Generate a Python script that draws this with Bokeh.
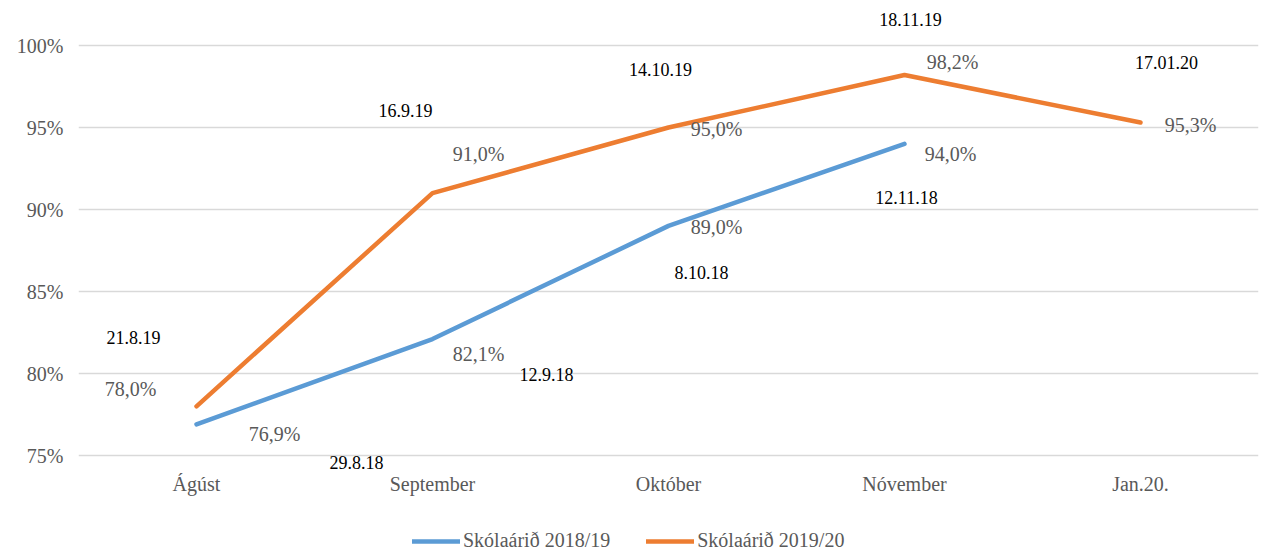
from bokeh.plotting import figure
from bokeh.models import (ColumnDataSource, LabelSet, Legend, LegendItem, FixedTicker,
                          PrintfTickFormatter, Range1d, FactorRange)
from bokeh.layouts import column
from bokeh.embed import file_html
from bokeh.resources import INLINE

categories = ["Ágúst", "September", "Október", "Nóvember", "Jan.20."]
series1_name = "Skólaárið 2018/19"
series2_name = "Skólaárið 2019/20"
series1_values = [76.9, 82.1, 89.0, 94.0]
series2_values = [78.0, 91.0, 95.0, 98.2, 95.3]
series1_value_labels = ["76,9%", "82,1%", "89,0%", "94,0%"]
series2_value_labels = ["78,0%", "91,0%", "95,0%", "98,2%", "95,3%"]
series1_dates = ["29.8.18", "12.9.18", "8.10.18", "12.11.18"]
series2_dates = ["21.8.19", "16.9.19", "14.10.19", "18.11.19", "17.01.20"]
y_ticks = [75, 80, 85, 90, 95, 100]

# label offsets (screen px), styling only
s1_val_dx = [78, 46, 48, 46]
s1_val_dy = [-10, -15, -1, -10]
s2_val_dx = [-66, 46, 48, 48, 50]
s2_val_dy = [17, 39, -1, 13, -2]
s1_date_dx = [160, 114, 33, 2]
s1_date_dy = [-38, -35, -47, -54]
s2_date_dx = [-63, -27, -8, 6, 26]
s2_date_dy = [69, 83, 58, 56, 60]

BLUE = "#5B9BD5"
ORANGE = "#ED7D31"
GRAY = "#595959"
SERIF = "Liberation Serif"
SANS = "Liberation Sans"

src1 = ColumnDataSource(dict(x=categories[:len(series1_values)], y=series1_values,
                             val=series1_value_labels, date=series1_dates,
                             vdx=s1_val_dx, vdy=s1_val_dy, ddx=s1_date_dx, ddy=s1_date_dy))
src2 = ColumnDataSource(dict(x=categories, y=series2_values,
                             val=series2_value_labels, date=series2_dates,
                             vdx=s2_val_dx, vdy=s2_val_dy, ddx=s2_date_dx, ddy=s2_date_dy))

# frame spans 5..472 px vertically, 16.4 px per percentage point
p = figure(width=1267, height=520, x_range=FactorRange(*categories),
           y_range=Range1d(75 - 17 / 16.4, 100 + 40 / 16.4),
           output_backend="svg", toolbar_location=None,
           min_border_left=78, min_border_right=9, min_border_top=5, min_border_bottom=48)
p.outline_line_color = None
p.background_fill_color = "white"
p.border_fill_color = "white"

r1 = p.line("x", "y", source=src1, line_color=BLUE, line_width=4.5, line_cap="round", line_join="round")
r2 = p.line("x", "y", source=src2, line_color=ORANGE, line_width=4.5, line_cap="round", line_join="round")

# axes
p.yaxis.ticker = FixedTicker(ticks=y_ticks)
p.yaxis.formatter = PrintfTickFormatter(format="%d%%")
for ax in (p.xaxis[0], p.yaxis[0]):
    ax.axis_line_color = None
    ax.major_tick_line_color = None
    ax.minor_tick_line_color = None
    ax.major_tick_out = 0
    ax.major_tick_in = 0
    ax.minor_tick_out = 0
    ax.major_label_text_font = SERIF
    ax.major_label_text_font_size = "20px"
    ax.major_label_text_color = GRAY
p.yaxis.major_label_standoff = 15
p.xaxis.major_label_standoff = 0
p.xgrid.grid_line_color = None
p.ygrid.grid_line_color = "#D9D9D9"
p.ygrid.grid_line_width = 1.3
p.ygrid.ticker = FixedTicker(ticks=y_ticks)

def add_labels(src, textcol, dx, dy, font, size, color):
    ls = LabelSet(x="x", y="y", text=textcol, source=src, x_offset=dx, y_offset=dy,
                  text_font=font, text_font_size=size, text_color=color,
                  text_align="center", text_baseline="middle")
    p.add_layout(ls)

add_labels(src1, "val", "vdx", "vdy", SERIF, "20px", GRAY)
add_labels(src2, "val", "vdx", "vdy", SERIF, "20px", GRAY)
add_labels(src1, "date", "ddx", "ddy", SANS, "18px", "black")
add_labels(src2, "date", "ddx", "ddy", SANS, "18px", "black")

# legend strip below the chart (its own small figure so the legend is not clipped);
# the series are re-drawn there outside its visible y-range, so only the legend shows
lg = figure(width=1267, height=31, x_range=p.x_range, y_range=Range1d(0, 1),
            output_backend="svg", toolbar_location=None, x_axis_type=None, y_axis_type=None,
            min_border_left=0, min_border_right=0, min_border_top=0, min_border_bottom=0)
lg.outline_line_color = None
lg.grid.grid_line_color = None
l1 = lg.line("x", "y", source=src1, line_color=BLUE, line_width=4.5, line_cap="round")
l2 = lg.line("x", "y", source=src2, line_color=ORANGE, line_width=4.5, line_cap="round")
legend = Legend(items=[LegendItem(label=series1_name, renderers=[l1]),
                       LegendItem(label=series2_name, renderers=[l2])],
                orientation="horizontal", location=(334, -1),
                label_text_font=SERIF, label_text_font_size="20px", label_text_color=GRAY,
                glyph_width=48, glyph_height=16, label_height=16, label_standoff=3,
                spacing=36, padding=0, margin=0,
                background_fill_alpha=0, border_line_color=None)
lg.add_layout(legend, "center")

open("out.html", "w").write(file_html(column(p, lg), INLINE))
